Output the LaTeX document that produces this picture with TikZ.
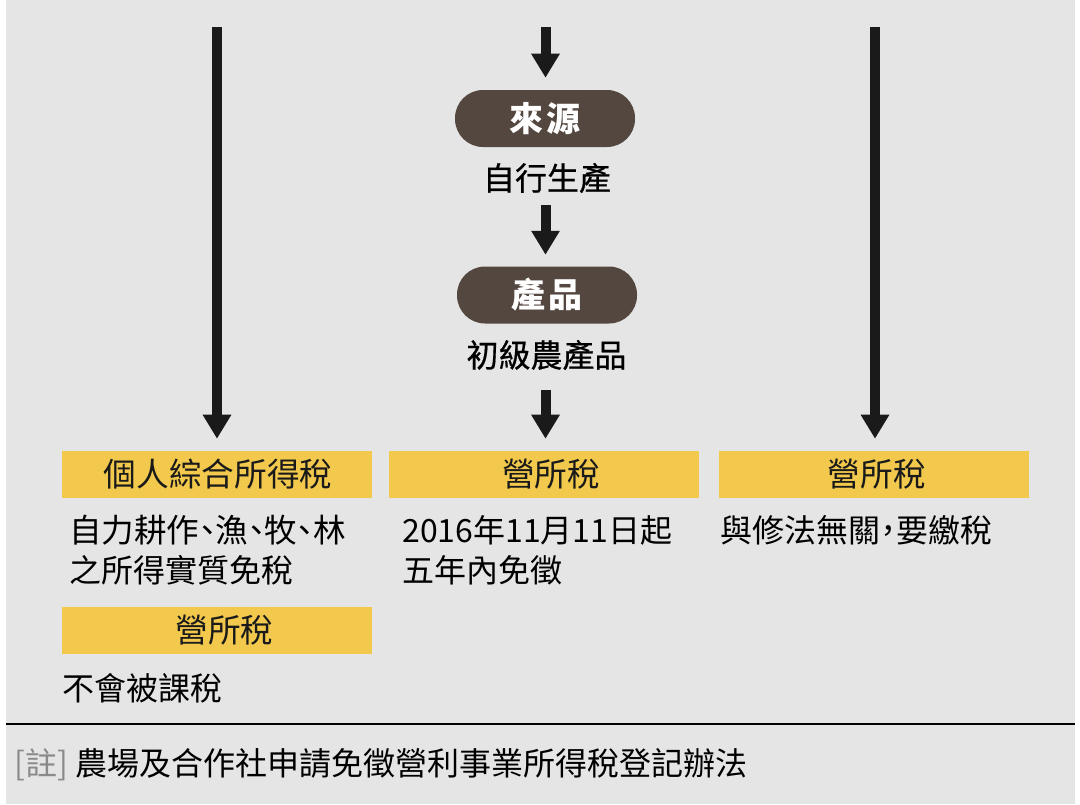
\documentclass[tikz,border=0pt]{standalone}
\usepackage{fontspec}
\setmainfont{Noto Sans CJK TC}
\newfontfamily\cjkh[RawFeature=+halt]{Noto Sans CJK TC}
\newfontfamily\cjkm[FakeBold=0.6]{Noto Sans CJK TC}
\usetikzlibrary{arrows.meta}
\definecolor{bg}{HTML}{E5E5E5}
\definecolor{pill}{HTML}{544740}
\definecolor{ylw}{HTML}{F2C94C}
\definecolor{ink}{HTML}{1A1A1A}
\definecolor{note}{HTML}{8A8A8A}
\begin{document}
\begin{tikzpicture}[x=0.75pt,y=-0.75pt,
  pillbox/.style={fill=pill, rounded corners=21pt, minimum width=135pt, minimum height=42.75pt,
    text=white, font=\fontsize{25.5}{28}\selectfont\bfseries, inner sep=0pt},
  ybox/.style={fill=ylw, minimum width=232.5pt, minimum height=35.25pt, inner sep=0pt,
    text=ink, font=\fontsize{24.5}{28}\selectfont, text height=21.5pt, text depth=3pt},
  body/.style={text=black, font=\fontsize{24}{28}\selectfont, inner sep=0pt,
    text height=21.1pt, text depth=2.9pt, anchor=west},
  flow/.style={draw=ink, line width=7.5pt, -{Triangle[width=20.25pt,length=18pt]}},
  rule/.style={draw=black, line width=1.1pt}
]
\useasboundingbox (0,0) rectangle (1080,804);
\fill[white] (0,0) rectangle (1080,804);
\fill[bg] (6,0) rectangle (1075,804);

% middle column
\node[pillbox] (src) at (545,118.5) {來\hspace{3pt}源};
\node[body, anchor=center] (self) at (547,178) {\cjkm 自行生產};
\node[pillbox] (prod) at (547,295) {產\hspace{3pt}品};
\node[body, anchor=center] (prim) at (546.5,355) {\cjkm 初級農產品};

% yellow tax boxes
\node[ybox] (b1) at (217,474.5) {\hspace{1.5pt}個人綜合所得稅};
\node[ybox] (b2) at (544,474.5) {\hspace{10.5pt}營所稅};
\node[ybox] (b3) at (874,474.5) {\hspace{4pt}營所稅};
\node[ybox] (b4) at (217,630.5) {\hspace{11pt}營所稅};

% arrow start points
\coordinate (lt) at (217,27);
\coordinate (mt) at (545.5,27);
\coordinate (rt) at (875,27);

% arrows
\draw[flow, shorten >=9pt] (lt) -- (lt |- b1.north);
\draw[flow, shorten >=9pt] (rt) -- (rt |- b3.north);
\draw[flow, shorten >=9pt] (mt) -- (mt |- src.north);
\draw[flow, shorten <=8.25pt, shorten >=8.6pt] (mt |- self.south) -- (mt |- prod.north);
\draw[flow, shorten <=14.25pt, shorten >=9pt] (mt |- prim.south) -- (mt |- b2.north);

% descriptions
\node[body] (l1) at (69,530) {\cjkh\fontsize{24.4}{28}\selectfont 自力耕作、漁、牧、林};
\node[body] (l2) at (69,570) {之所得實質免稅};
\node[body] (m1) at (402,530) {2016年11月11日起};
\node[body] (m2) at (402,570) {五年內免徵};
\node[body] (r1) at (720,530) {\cjkh 與修法無關，要繳稅};
\node[body] (l3) at (62,688) {不會被課稅};

% separator and note
\coordinate (sepl) at (6,724);
\coordinate (sepr) at (1075,724);
\draw[rule] (sepl) -- (sepr);
\node[body] (fn) at (14,763.5) {\textcolor{note}{[註]} 農場及合作社申請免徵營利事業所得稅登記辦法};
\end{tikzpicture}
\end{document}
